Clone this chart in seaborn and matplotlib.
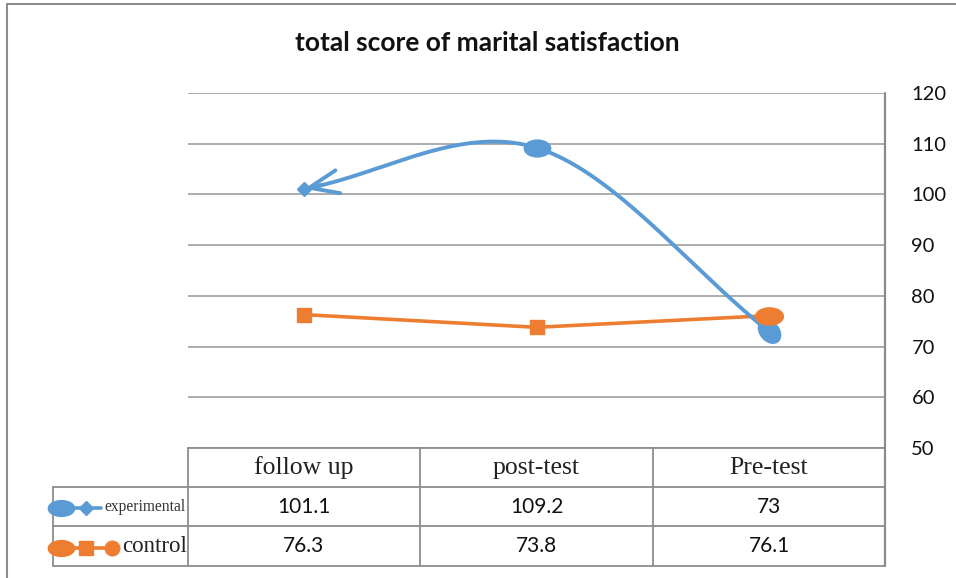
import numpy as np
import pandas as pd
import matplotlib
matplotlib.use("Agg")
import matplotlib.pyplot as plt
import seaborn as sns
from matplotlib.path import Path
from matplotlib.transforms import Affine2D
from matplotlib.lines import Line2D

# ---------------- data ----------------
categories = ["follow up", "post-test", "Pre-test"]
experimental = [101.1, 109.2, 73]
control = [76.3, 73.8, 76.1]
experimental_labels = ["101.1", "109.2", "73"]
control_labels = ["76.3", "73.8", "76.1"]
series_names = ["experimental", "control"]
yticks = [50, 60, 70, 80, 90, 100, 110, 120]
title = "total score of marital satisfaction"

BLUE = "#5B9BD5"
ORANGE = "#ED7D31"
GRID = "#A6A6A6"
BORDER = "#8C8C8C"

sns.set_theme(style="white")
plt.rcParams['font.family'] = ['Lato', 'DejaVu Sans']
SERIF = ['Liberation Serif', 'DejaVu Serif']

W, H = 956, 578
fig = plt.figure(figsize=(W / 100, H / 100), dpi=100)


def fx(x):
    return x / W


def fy(y):
    return 1 - y / H


ax = fig.add_axes([fx(188), fy(448), fx(885) - fx(188), fy(93) - fy(448)])
ax.set_xlim(-0.5, 2.5)
ax.set_ylim(50, 120)
ax.set_yticks(yticks)
ax.set_xticks([])
ax.yaxis.tick_right()
ax.tick_params(axis='y', length=0, pad=19, labelsize=14.5, labelcolor="#111111")
ax.yaxis.grid(True, color=GRID, lw=1.3)
for s in ax.spines.values():
    s.set_visible(False)
ax.set_facecolor("white")


def ellipse_marker(ratio=0.65, angle=0.0):
    return Path.unit_circle().transformed(Affine2D().scale(1, ratio).rotate_deg(angle))


# ---------------- control series (straight) ----------------
xs = np.arange(len(categories))
df_ctl = pd.DataFrame({"x": xs, "y": control})
sns.lineplot(data=df_ctl, x="x", y="y", ax=ax, color=ORANGE, lw=2.6, zorder=3)
ax.plot(xs[:2], control[:2], ls="none", marker="s", ms=10.5, color=ORANGE, zorder=4)
ax.plot(xs[2:], control[2:], ls="none", marker=ellipse_marker(0.62), ms=20,
        color=ORANGE, zorder=6)

# ---------------- experimental series (smoothed) ----------------
P = np.column_stack([xs.astype(float), np.array(experimental, float)])
n = len(P)
M = np.zeros_like(P)
for i in range(n):
    if i == 0:
        M[i] = P[1] - P[0]
    elif i == n - 1:
        M[i] = P[-1] - P[-2]
    else:
        M[i] = (P[i + 1] - P[i - 1]) / 2
curve = []
for i in range(n - 1):
    t = np.linspace(0, 1, 80)[:, None]
    h00 = 2 * t**3 - 3 * t**2 + 1
    h10 = t**3 - 2 * t**2 + t
    h01 = -2 * t**3 + 3 * t**2
    h11 = t**3 - t**2
    seg = h00 * P[i] + h10 * M[i] + h01 * P[i + 1] + h11 * M[i + 1]
    curve.append(seg if i == 0 else seg[1:])
curve = np.vstack(curve)
df_exp = pd.DataFrame({"x": curve[:, 0], "y": curve[:, 1]})
sns.lineplot(data=df_exp, x="x", y="y", ax=ax, sort=False, color=BLUE, lw=2.8, zorder=3)
ax.annotate("", xy=(P[0, 0], P[0, 1]), xytext=(curve[6, 0], curve[6, 1]),
            arrowprops=dict(arrowstyle="->,head_length=1.05,head_width=0.42",
                            color=BLUE, lw=2.8, shrinkA=0, shrinkB=0,
                            mutation_scale=20), zorder=4)
ax.plot([xs[0]], [experimental[0]], ls="none", marker="D", ms=7, color=BLUE, zorder=5)
ax.plot([xs[1]], [experimental[1]], ls="none", marker=ellipse_marker(0.64), ms=19,
        color=BLUE, zorder=5)
ax.plot([xs[2]], [experimental[2]], ls="none", marker=ellipse_marker(0.72, -50), ms=17.5,
        color=BLUE, zorder=5)
ax.set_xlabel("")
ax.set_ylabel("")

# ---------------- data table ----------------
def hline(y, x0, x1, lw=1.3):
    fig.add_artist(Line2D([fx(x0), fx(x1)], [fy(y), fy(y)], color=BORDER, lw=lw,
                          transform=fig.transFigure))


def vline(x, y0, y1, lw=1.3):
    fig.add_artist(Line2D([fx(x), fx(x)], [fy(y0), fy(y1)], color=BORDER, lw=lw,
                          transform=fig.transFigure))


col_edges = [188, 420, 653, 885]
hline(448, 188, 885)
hline(487, 53, 885)
hline(526, 53, 885)
hline(566, 53, 885)
vline(53, 487, 566)
for xe in col_edges[:-1]:
    vline(xe, 448, 566)
vline(885, 93, 566, lw=1.6)

for j, cat in enumerate(categories):
    cx = (col_edges[j] + col_edges[j + 1]) / 2
    fig.text(fx(cx), fy(468), cat, ha="center", va="center", fontsize=18.5,
             family=SERIF, color="#222222")
    fig.text(fx(cx), fy(507), experimental_labels[j], ha="center", va="center",
             fontsize=15, color="#111111")
    fig.text(fx(cx), fy(546), control_labels[j], ha="center", va="center",
             fontsize=15, color="#111111")

# legend keys inside row header cells
fig.add_artist(Line2D([fx(61), fx(101)], [fy(508), fy(508)], color=BLUE, lw=2.6,
                      transform=fig.transFigure))
fig.add_artist(Line2D([fx(61)], [fy(508)], ls="none", marker=ellipse_marker(0.6),
                      ms=19, color=BLUE, transform=fig.transFigure))
fig.add_artist(Line2D([fx(86)], [fy(508)], ls="none", marker="D", ms=7,
                      color=BLUE, transform=fig.transFigure))
fig.text(fx(104), fy(507), series_names[0], ha="left", va="center", fontsize=11.2,
         family=SERIF, color="#333333")

fig.add_artist(Line2D([fx(61), fx(112)], [fy(548), fy(548)], color=ORANGE, lw=2.6,
                      transform=fig.transFigure))
fig.add_artist(Line2D([fx(61)], [fy(548)], ls="none", marker=ellipse_marker(0.6),
                      ms=19, color=ORANGE, transform=fig.transFigure))
fig.add_artist(Line2D([fx(86)], [fy(548)], ls="none", marker="s", ms=10,
                      color=ORANGE, transform=fig.transFigure))
fig.add_artist(Line2D([fx(112)], [fy(548)], ls="none", marker="o", ms=10.5,
                      color=ORANGE, transform=fig.transFigure))
fig.text(fx(122), fy(547), series_names[1], ha="left", va="center", fontsize=16.5,
         family=SERIF, color="#222222")

# title
fig.text(fx(487), fy(43), title, ha="center", va="center", fontsize=19,
         fontweight="bold", color="#111111")

# outer chart border (left and top edges visible)
fig.add_artist(Line2D([fx(7), fx(7)], [fy(4), 0], color=BORDER, lw=1.5,
                      transform=fig.transFigure))
fig.add_artist(Line2D([fx(7), 1], [fy(4), fy(4)], color=BORDER, lw=1.5,
                      transform=fig.transFigure))

fig.savefig("out.png", dpi=100, facecolor="white")
